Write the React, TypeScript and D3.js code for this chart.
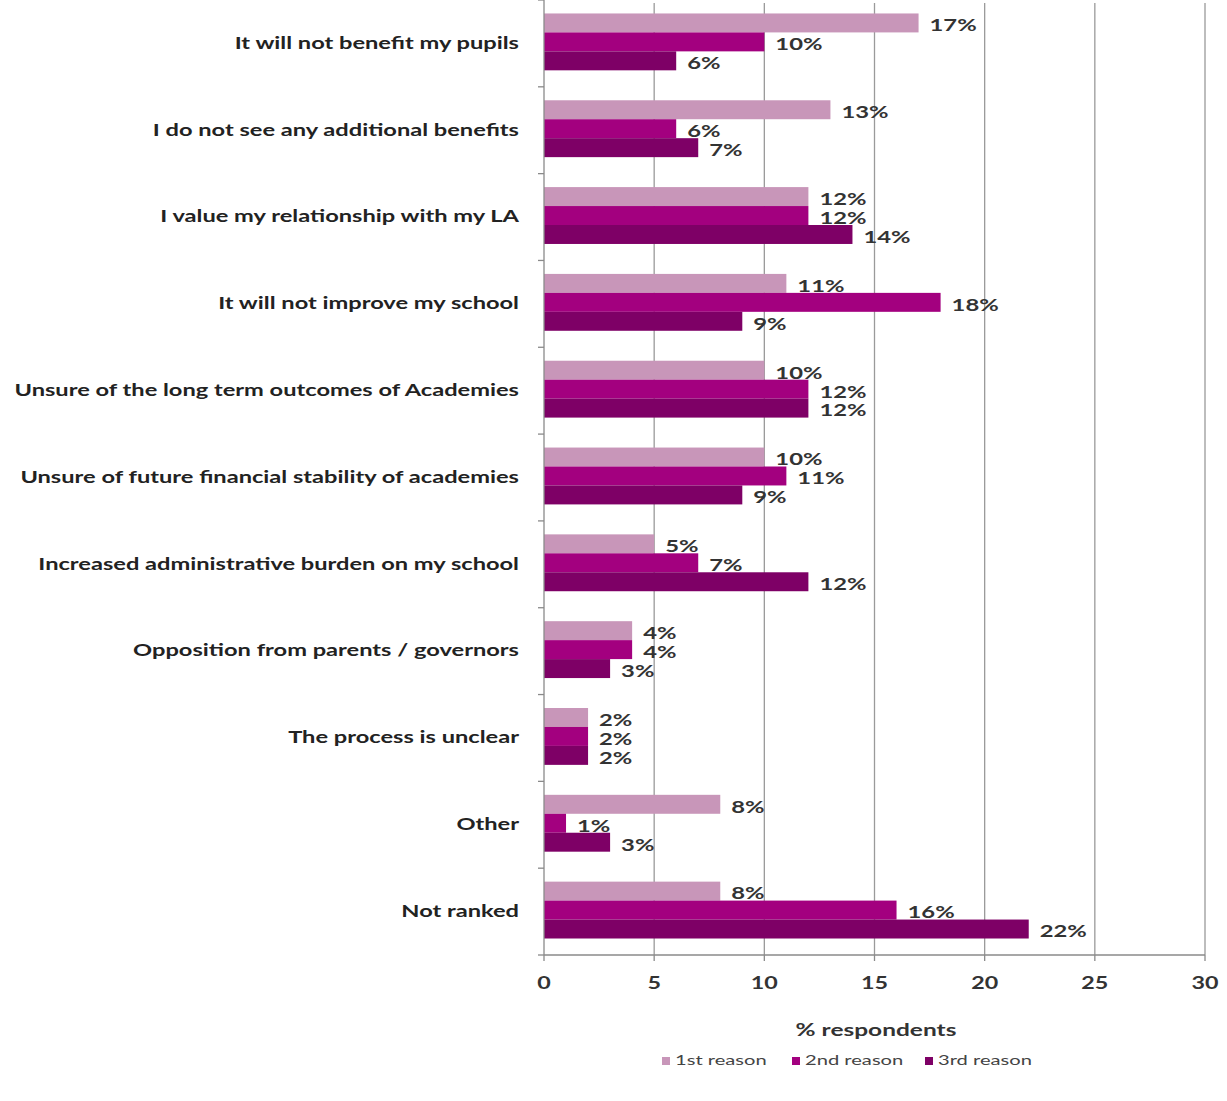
import React from "react";
import * as d3 from "d3";

const categories = [
  "It will not benefit my pupils",
  "I do not see any additional benefits",
  "I value my relationship with my LA",
  "It will not improve my school",
  "Unsure of the long term outcomes of Academies",
  "Unsure of future financial stability of academies",
  "Increased administrative burden on my school",
  "Opposition from parents / governors",
  "The process is unclear",
  "Other",
  "Not ranked",
];
const firstReason = [17, 13, 12, 11, 10, 10, 5, 4, 2, 8, 8];
const secondReason = [10, 6, 12, 18, 12, 11, 7, 4, 2, 1, 16];
const thirdReason = [6, 7, 14, 9, 12, 9, 12, 3, 2, 3, 22];
const seriesNames = ["1st reason", "2nd reason", "3rd reason"];
const seriesColors = ["#c896b9", "#a3007f", "#7e0066"];
const xTicks = [0, 5, 10, 15, 20, 25, 30];

const W = 1227;
const H = 1101;
const left = 544;
const right = 1205;
const top = 0;
const bottom = 955;
const font = "Lato, 'Open Sans', sans-serif";

type TProps = {
  x: number;
  y: number;
  sx: number;
  size: number;
  anchor?: "start" | "middle" | "end";
  weight?: number;
  fill?: string;
  children: React.ReactNode;
};

function SText({ x, y, sx, size, anchor = "start", weight = 700, fill = "#333", children }: TProps) {
  return (
    <text
      transform={`translate(${x},${y}) scale(${sx},1)`}
      textAnchor={anchor}
      dominantBaseline="middle"
      fontSize={size}
      fontWeight={weight}
      fill={fill}
    >
      {children}
    </text>
  );
}

export default function App() {
  const series = [firstReason, secondReason, thirdReason];
  const x = d3.scaleLinear().domain([0, 30]).range([left, right]);
  const y = d3.scaleBand<string>().domain(categories).range([top, bottom]).padding(0);
  const bw = y.bandwidth();
  const inner = d3
    .scaleBand<number>()
    .domain([0, 1, 2])
    .range([bw * 0.155, bw * 0.81])
    .padding(0);

  const legendX = [662, 792, 925];

  return (
    <svg
      width={W}
      height={H}
      style={{ position: "absolute", left: 0, top: 0, background: "#fff" }}
      fontFamily={font}
    >
      <rect x={0} y={0} width={W} height={H} fill="#fff" />
      {xTicks.slice(1).map((t) => (
        <line key={"g" + t} x1={x(t)} x2={x(t)} y1={3} y2={bottom} stroke="#9a9a9a" strokeWidth={1.3} />
      ))}
      {categories.map((c, i) => (
        <g key={c}>
          {series.map((s, k) => {
            const yy = (y(c) as number) + (inner(k) as number);
            const h = inner.bandwidth();
            return (
              <g key={k}>
                <rect x={x(0)} y={yy} width={x(s[i]) - x(0)} height={h} fill={seriesColors[k]} />
                <SText x={x(s[i]) + 11} y={yy + h / 2 + 4} sx={1.4} size={17}>
                  {s[i] + "%"}
                </SText>
              </g>
            );
          })}
          <SText x={519} y={(y(c) as number) + bw / 2 + 1} sx={1.39} size={17} anchor="end" fill="#222">
            {c}
          </SText>
        </g>
      ))}
      <line x1={left} x2={left} y1={0} y2={bottom} stroke="#8a8a8a" strokeWidth={1.3} />
      {d3.range(categories.length + 1).map((i) => (
        <line
          key={"yt" + i}
          x1={left - 6}
          x2={left}
          y1={top + i * bw}
          y2={top + i * bw}
          stroke="#8a8a8a"
          strokeWidth={1.3}
        />
      ))}
      <line x1={left} x2={right} y1={bottom} y2={bottom} stroke="#8a8a8a" strokeWidth={1.3} />
      {xTicks.map((t) => (
        <g key={"xt" + t}>
          <line x1={x(t)} x2={x(t)} y1={bottom} y2={bottom + 6} stroke="#8a8a8a" strokeWidth={1.3} />
          <SText x={x(t)} y={bottom + 30} sx={1.37} size={17} anchor="middle">
            {t}
          </SText>
        </g>
      ))}
      <SText x={876} y={1032} sx={1.44} size={17} anchor="middle">
        % respondents
      </SText>
      {seriesNames.map((n, k) => (
        <g key={n}>
          <rect x={legendX[k]} y={1057} width={8} height={8} fill={seriesColors[k]} />
          <SText x={legendX[k] + 13} y={1062} sx={1.55} size={13} weight={400} fill="#444">
            {n}
          </SText>
        </g>
      ))}
    </svg>
  );
}
